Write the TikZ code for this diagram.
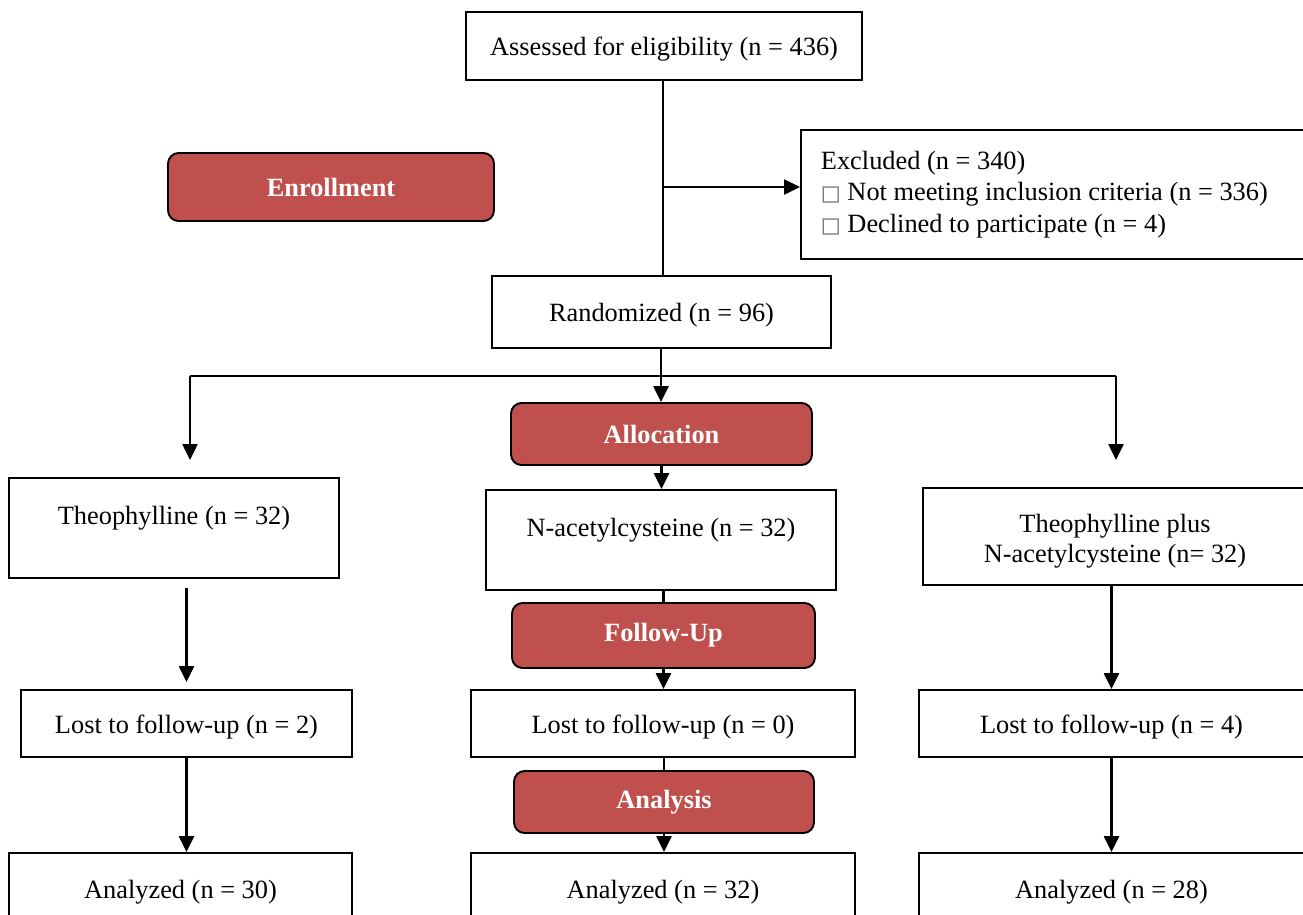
\documentclass[tikz,border=0pt]{standalone}
\usepackage{fontspec}
\setmainfont{Liberation Serif}
\newfontfamily\boxglyph{DejaVu Sans}
\usetikzlibrary{arrows.meta}
\definecolor{phasered}{HTML}{C0504D}
\newcommand{\chk}{{\boxglyph\fontsize{12}{12}\selectfont\color{black!60}□}}

\begin{document}
\begin{tikzpicture}[x=0.02cm,y=-0.02cm,line width=1.2pt,
    >={Triangle[length=9pt,width=8.5pt]},
    every node/.style={font=\fontsize{15}{17}\selectfont},
    stagebox/.style={draw,line width=1.1pt,inner sep=0pt,align=center},
    oneline/.style={stagebox,text height=14.4pt,text depth=3.2pt},
    topline/.style={stagebox,text height=0pt,text depth=3.6pt},
    phase/.style={draw,line width=1.1pt,fill=phasered,rounded corners=6pt,
                  inner sep=0pt,text=white,font=\fontsize{15}{17}\selectfont\bfseries}]
      \useasboundingbox (0,0) rectangle (1303,914);
      \clip (0,0) rectangle (1303,914);

      % enrollment
      \node (assess) [oneline,minimum width=7.92cm,minimum height=1.36cm] at (664,46)  {Assessed for eligibility (n = 436)};
      \node (enroll) [phase,minimum width=6.52cm,minimum height=1.36cm]   at (331,187) {Enrollment};
      \node (excl)   [stagebox,anchor=north west,align=flush left,text width=9.6cm,
                      inner xsep=0.4cm,minimum height=2.58cm] at (800,129)
                     {Excluded (n = 340)\\[1pt]
                      \chk\ Not meeting inclusion criteria (n = 336)\\[1pt]
                      \chk\ Declined to participate (n = 4)};
      \node (rand)   [oneline,minimum width=6.78cm,minimum height=1.44cm] at (661.5,312) {Randomized (n = 96)};

      % allocation
      \node (alloc)  [phase,minimum width=6.02cm,minimum height=1.24cm]    at (661.5,434) {Allocation};
      \node (theo)   [topline,minimum width=6.6cm,minimum height=2cm]      at (174,528)   {Theophylline (n = 32)};
      \node (nac)    [topline,minimum width=7cm,minimum height=2cm]        at (661,540)   {N-acetylcysteine (n = 32)};
      \node (combo)  [stagebox,minimum width=7.68cm,minimum height=1.94cm] at (1115,536.5)
                     {\rule{0pt}{15.8pt}Theophylline plus\\N-acetylcysteine (n= 32)};

      % follow-up
      \node (follow) [phase,minimum width=6.06cm,minimum height=1.3cm]     at (663.5,635.5) {Follow-Up};
      \node (lost1)  [oneline,minimum width=6.62cm,minimum height=1.34cm]  at (186.5,723.5) {Lost to follow-up (n = 2)};
      \node (lost2)  [oneline,minimum width=7.68cm,minimum height=1.34cm]  at (663,723.5)   {Lost to follow-up (n = 0)};
      \node (lost3)  [oneline,minimum width=7.7cm,minimum height=1.34cm]   at (1111.5,723.5) {Lost to follow-up (n = 4)};

      % analysis
      \node (analysis) [phase,minimum width=6cm,minimum height=1.24cm]     at (664,802)   {Analysis};
      \node (an1)    [oneline,minimum width=6.86cm,minimum height=1.44cm]  at (180.5,889) {Analyzed (n = 30)};
      \node (an2)    [oneline,minimum width=7.68cm,minimum height=1.44cm]  at (663,889)   {Analyzed (n = 32)};
      \node (an3)    [oneline,minimum width=7.7cm,minimum height=1.44cm]   at (1111.5,889) {Analyzed (n = 28)};

      \coordinate (exsplit) at (663,187);
      \coordinate (split)   at (661,376);
      \coordinate (splitL)  at (190,376);
      \coordinate (splitR)  at (1116,376);
      \coordinate (toTheo)  at (190,460);
      \coordinate (toCombo) at (1116,460);

      \draw      (assess.south -| exsplit) -- (exsplit |- rand.north);
      \draw [->] (exsplit) -- (exsplit -| excl.west);
      \draw      (rand.south -| split) -- (split);
      \draw      (splitL) -- (splitR);
      \draw [->] (split) -- (split |- alloc.north);
      \draw [->] (splitL) -- (toTheo);
      \draw [->] (splitR) -- (toCombo);
      \draw [->] (alloc.south) -- (alloc.south |- nac.north);

      \draw      (follow.north |- nac.south) -- (follow.north);
      \draw [->] (follow.south) -- (follow.south |- lost2.north);
      \draw [->,shorten <=5pt,shorten >=4pt] (theo.south -| lost1) -- (lost1.north);
      \draw [->] (combo.south -| lost3) -- (lost3.north);

      \draw      (lost2.south -| analysis) -- (analysis.north);
      \draw [->] (analysis.south) -- (analysis.south |- an2.north);
      \draw [->] (lost1.south) -- (lost1.south |- an1.north);
      \draw [->] (lost3.south) -- (lost3.south |- an3.north);
    \end{tikzpicture}
\end{document}
